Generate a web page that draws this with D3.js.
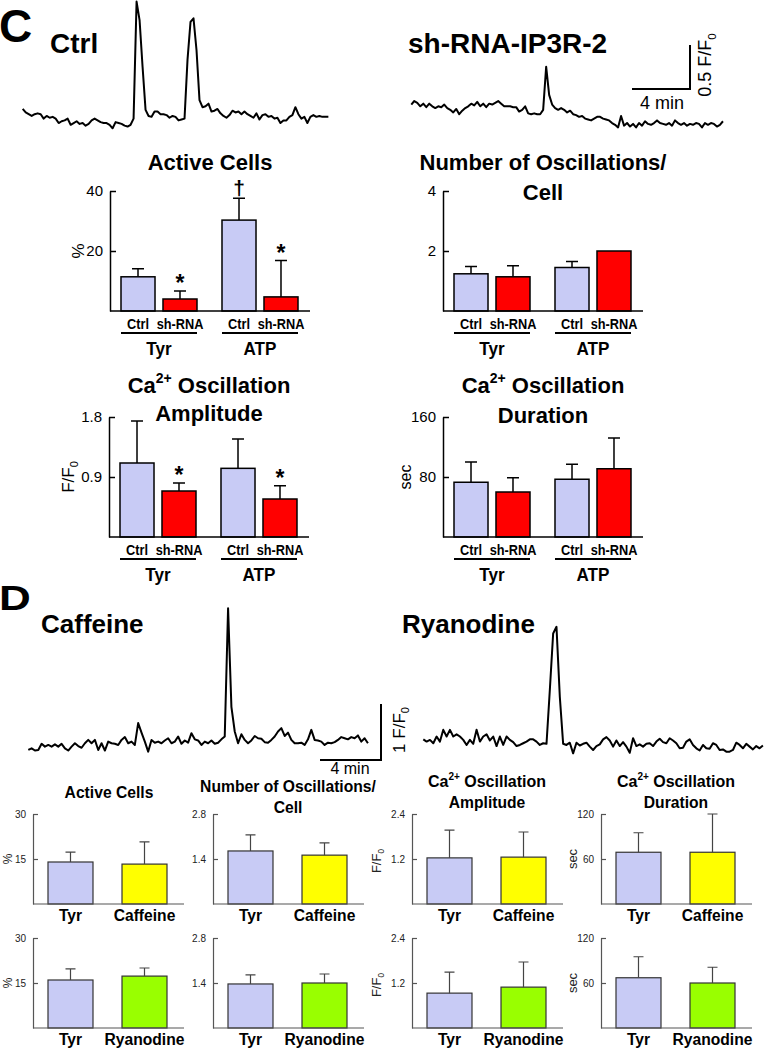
<!DOCTYPE html>
<html><head><meta charset="utf-8">
<script src="https://cdn.jsdelivr.net/npm/d3@7"></script>
<style>body{margin:0;background:#fff}svg{display:block}</style>
</head><body>
<svg id="c" width="766" height="1050" style="font-family:'Liberation Sans',Arial,Helvetica,sans-serif"></svg>
<script>
// ---------------- DATA ----------------
// Ca2+ traces (F/F0 above trace floor), evenly sampled
const traceCtrl = [0.22,0.18,0.16,0.14,0.16,0.17,0.16,0.11,0.14,0.12,
0.13,0.11,0.06,0.08,0.09,0.11,0.04,0.06,0.08,0.05,
0.06,0.03,0.05,0.09,0.11,0.09,0.07,0.06,0.06,0.04,
0.00,0.07,0.06,0.05,0.03,0.02,0.04,0.11,1.44,1.23,
0.70,0.21,0.14,0.13,0.19,0.19,0.16,0.16,0.15,0.12,
0.14,0.13,0.09,0.10,0.11,0.78,1.21,1.25,0.89,0.32,
0.24,0.25,0.28,0.19,0.20,0.22,0.17,0.14,0.12,0.15,
0.20,0.18,0.19,0.16,0.19,0.16,0.14,0.12,0.17,0.10,
0.15,0.16,0.13,0.14,0.11,0.12,0.06,0.09,0.09,0.13,
0.15,0.24,0.16,0.11,0.13,0.06,0.13,0.15,0.13,0.14,
0.13,0.13,0.13];
const traceShRNA = [0.27,0.31,0.29,0.25,0.28,0.24,0.28,0.25,0.23,0.25,
0.24,0.27,0.23,0.21,0.18,0.22,0.16,0.20,0.23,0.25,
0.28,0.26,0.30,0.25,0.28,0.24,0.28,0.27,0.29,0.31,
0.28,0.25,0.25,0.25,0.24,0.24,0.19,0.21,0.25,0.17,
0.16,0.17,0.16,0.16,0.21,0.70,0.38,0.27,0.23,0.21,
0.23,0.21,0.18,0.20,0.16,0.15,0.13,0.14,0.11,0.10,
0.09,0.11,0.13,0.13,0.11,0.10,0.09,0.06,0.04,0.01,
0.14,0.03,0.06,0.02,0.05,0.01,0.06,0.03,0.08,0.05,
0.04,0.06,0.09,0.06,0.05,0.04,0.06,0.03,0.09,0.06,
0.04,0.06,0.03,0.05,0.04,0.06,0.05,0.01,0.06,0.04,
0.06,0.05,0.02,0.04,0.08];
const traceCaffeine = [0.12,0.15,0.11,0.12,0.23,0.18,0.21,0.18,0.22,0.18,
0.23,0.15,0.11,0.18,0.24,0.19,0.16,0.24,0.30,0.24,
0.30,0.12,0.24,0.11,0.27,0.24,0.23,0.21,0.30,0.35,
0.24,0.27,0.21,0.60,0.43,0.27,0.09,0.30,0.25,0.27,
0.24,0.29,0.33,0.24,0.27,0.36,0.23,0.29,0.25,0.42,
0.31,0.29,0.21,0.27,0.24,0.29,0.23,0.25,0.31,0.36,
2.65,0.89,0.45,0.24,0.40,0.30,0.24,0.29,0.37,0.33,
0.32,0.26,0.25,0.30,0.36,0.45,0.51,0.37,0.43,0.30,
0.24,0.24,0.25,0.21,0.31,0.48,0.30,0.29,0.27,0.21,
0.25,0.24,0.26,0.30,0.35,0.33,0.31,0.35,0.33,0.38,
0.27,0.33,0.24];
const traceRyanodine = [0.31,0.27,0.30,0.24,0.36,0.27,0.48,0.36,0.48,0.36,
0.40,0.36,0.30,0.21,0.30,0.23,0.48,0.27,0.36,0.40,
0.29,0.36,0.19,0.36,0.21,0.36,0.30,0.26,0.19,0.21,
0.24,0.27,0.31,0.31,0.27,0.21,0.24,0.23,1.19,2.20,
2.32,1.07,0.23,0.21,0.25,0.06,0.25,0.20,0.23,0.25,
0.18,0.12,0.19,0.22,0.31,0.35,0.29,0.18,0.29,0.19,
0.26,0.18,0.07,0.33,0.19,0.22,0.18,0.23,0.24,0.19,
0.27,0.32,0.26,0.24,0.33,0.29,0.24,0.15,0.16,0.27,
0.31,0.21,0.15,0.11,0.21,0.15,0.14,0.24,0.21,0.12,
0.13,0.09,0.09,0.12,0.25,0.21,0.15,0.23,0.18,0.13,
0.19,0.15,0.20];

// Panel C bar charts: order Tyr-Ctrl, Tyr-sh-RNA, ATP-Ctrl, ATP-sh-RNA
const cGroups = ["Tyr","ATP"];
const cConds = ["Ctrl","sh-RNA"];
const activeMean = [11.4,4.0,30.3,4.7];
const activeErr  = [2.7,2.7,7.3,12.1];
const activeMarks = ["","*","\u2020","*"];
const activeTicks = [20,40];
const oscMean = [1.24,1.14,1.45,2.0];
const oscErr  = [0.24,0.37,0.20,0];
const oscTicks = [2,4];
const ampMean = [1.11,0.69,1.03,0.57];
const ampErr  = [0.63,0.12,0.44,0.20];
const ampMarks = ["","*","","*"];
const ampTicks = [0.9,1.8];
const durMean = [73,60,77,91];
const durErr  = [27,19,20,41];
const durTicks = [80,160];

// Panel D bar charts: [Tyr, drug]
const cafCats = ["Tyr","Caffeine"];
const ryaCats = ["Tyr","Ryanodine"];
const dActiveCaf = [14.0,13.3], dActiveCafErr = [3.3,7.4];
const dOscCaf = [1.65,1.52], dOscCafErr = [0.50,0.38];
const dAmpCaf = [1.23,1.25], dAmpCafErr = [0.74,0.67];
const dDurCaf = [69,69], dDurCafErr = [26,51];
const dActiveRya = [16.0,17.3], dActiveRyaErr = [3.7,2.7];
const dOscRya = [1.37,1.40], dOscRyaErr = [0.28,0.28];
const dAmpRya = [0.93,1.09], dAmpRyaErr = [0.56,0.67];
const dDurRya = [67,60], dDurRyaErr = [28,21];
const dActiveTicks = [15,30], dOscTicks = [1.4,2.8], dAmpTicks = [1.2,2.4], dDurTicks = [60,120];

// ---------------- DRAWING ----------------
const svg = d3.select("#c");
const LAV = "#c8cbf5", RED = "#ff0000", YEL = "#ffff00", GRN = "#99ff00";

function txt(x, y, s, size, weight, anchor, k) {
  return svg.append("text").attr("transform", `translate(${x},${y}) scale(${k || 1},1)`).text(s)
    .attr("font-size", size).attr("font-weight", weight || "normal")
    .attr("text-anchor", anchor || "start").attr("fill", "#000");
}
function rotLabel(x, y, parts, size, color) {
  const t = svg.append("text").attr("transform", `translate(${x},${y}) rotate(-90)`)
    .attr("text-anchor", "middle").attr("font-size", size).attr("fill", color || "#000");
  parts.forEach(p => {
    const ts = t.append("tspan").text(p.t);
    if (p.sub) ts.attr("font-size", size * 0.65).attr("dy", size * 0.25);
  });
  return t;
}
function titleCa(x, y, size, supSize, rest) {
  const t = svg.append("text").attr("x", x).attr("y", y).attr("text-anchor", "middle")
    .attr("font-size", size).attr("font-weight", "bold");
  t.append("tspan").text("Ca");
  t.append("tspan").text("2+").attr("font-size", supSize).attr("dy", -size * 0.45);
  t.append("tspan").text(" " + rest).attr("dy", size * 0.45);
}

// ---- traces ----
function trace(vals, x0, dt, pxPer4min, yFloor, pxPerUnit) {
  const x = d3.scaleLinear().domain([0, 240]).range([x0, x0 + pxPer4min]);
  const y = d3.scaleLinear().domain([0, 1]).range([yFloor, yFloor - pxPerUnit]);
  svg.append("path").datum(vals)
    .attr("d", d3.line().x((d, i) => x(i * dt)).y(d => y(d)))
    .attr("fill", "none").attr("stroke", "#000").attr("stroke-width", 2)
    .attr("stroke-linejoin", "round");
  return {x, y};
}
const sC = trace(traceCtrl, 22.7, 12.4, 58, 128.3, 88);
trace(traceShRNA, 411.3, 12.4, 58, 128.3, 88);
const sD = trace(traceCaffeine, 28.3, 13.1, 61, 756.7, 56);
trace(traceRyanodine, 423.3, 13.1, 61, 756.7, 56);

function scaleBar(xr, yb, s, fval, lenMin) {
  const w = s.x(lenMin) - s.x(0);
  const h = s.y(0) - s.y(fval);
  svg.append("path").attr("d", `M${xr - w},${yb}H${xr}V${yb - h}`)
    .attr("fill", "none").attr("stroke", "#000").attr("stroke-width", 2);
}
scaleBar(690, 89, sC, 0.5, 240);
txt(662, 109, "4 min", 18, "normal", "middle");
rotLabel(711, 65, [{t:"0.5 F/F"},{t:"0",sub:true}], 18);
scaleBar(381, 760, sD, 1, 240);
txt(350, 774, "4 min", 16, "normal", "middle");
rotLabel(405, 730, [{t:"1 F/F"},{t:"0",sub:true}], 17);

// ---- panel letters and trace titles ----
txt(-1, 42, "C", 46, "bold");
txt(50, 53, "Ctrl", 28, "bold");
txt(408, 53, "sh-RNA-IP3R-2", 28, "bold");
svg.append("text").attr("transform", "translate(-1,610) scale(1,0.8)")
  .attr("font-size", 44).attr("font-weight", "bold").text("D");
txt(41, 633, "Caffeine", 26, "bold");
txt(402, 633, "Ryanodine", 26, "bold");

// ---- main bar panels (C) ----
function mainPanel(p) {
  const g = svg.append("g");
  const y = d3.scaleLinear().domain([0, p.max]).range([p.zy, p.zy - 120]);
  const xg = d3.scaleBand().domain(cGroups).range([p.ax + 11, p.ax + 188]).paddingInner(0.2475);
  const xc = d3.scaleBand().domain(cConds).range([0, xg.bandwidth()]).paddingInner(0.19);
  const rows = p.mean.map((m, i) => ({g: cGroups[i >> 1], c: cConds[i % 2], m, e: p.err[i],
    mk: p.marks ? p.marks[i] : "", col: i % 2 ? RED : LAV}));
  const bx = d => xg(d.g) + xc(d.c);
  const cx = d => bx(d) + xc.bandwidth() / 2;
  g.selectAll("rect").data(rows).join("rect")
    .attr("x", bx).attr("y", d => y(d.m)).attr("width", xc.bandwidth())
    .attr("height", d => p.zy - y(d.m)).attr("fill", d => d.col)
    .attr("stroke", "#000").attr("stroke-width", 1.5);
  const eb = rows.filter(d => d.e > 0);
  g.selectAll("path.eb").data(eb).join("path").attr("class", "eb")
    .attr("d", d => `M${cx(d)},${y(d.m)}V${y(d.m + d.e)}M${cx(d) - 6},${y(d.m + d.e)}H${cx(d) + 6}`)
    .attr("stroke", "#000").attr("stroke-width", 1.5).attr("fill", "none");
  rows.filter(d => d.mk).forEach(d => {
    const top = y(d.m + d.e);
    if (d.mk === "*") txt(cx(d), top - 13 + 13, "*", 23, "bold", "middle");
    else txt(cx(d), top - 3, d.mk, 21, "bold", "middle");
  });
  const ax = d3.axisLeft(y).tickValues(p.ticks).tickSize(-6).tickSizeOuter(0).tickPadding(7)
    .tickFormat(d => String(d));
  const ag = g.append("g").attr("transform", `translate(${p.ax},0)`).call(ax);
  ag.attr("font-family", null).attr("font-size", 15);
  ag.selectAll("path,line").attr("stroke", "#000").attr("stroke-width", 1.5);
  ag.selectAll("text").attr("fill", "#000");
  g.append("line").attr("x1", p.ax).attr("x2", p.ax + 200).attr("y1", p.zy).attr("y2", p.zy)
    .attr("stroke", "#000").attr("stroke-width", 1.5);
  rows.forEach(d => txt(cx(d), p.zy + 17.5, d.c, 14.5, "bold", "middle", 0.88));
  cGroups.forEach(gr => {
    g.append("line").attr("x1", xg(gr)).attr("x2", xg(gr) + xg.bandwidth())
      .attr("y1", p.zy + 22).attr("y2", p.zy + 22).attr("stroke", "#000").attr("stroke-width", 2);
    txt(xg(gr) + xg.bandwidth() / 2, p.zy + 44, gr, 19, "bold", "middle", 0.9);
  });
  const tc = p.ax + 100;
  if (p.ca) { titleCa(tc, p.titleY[0], 22, 14, p.title[0]); txt(tc, p.titleY[1], p.title[1], 22, "bold", "middle"); }
  else p.title.forEach((t, i) => txt(tc, p.titleY[i], t, 22, "bold", "middle"));
}
mainPanel({ax:110, zy:311, max:40, ticks:activeTicks, mean:activeMean, err:activeErr, marks:activeMarks,
  title:["Active Cells"], titleY:[170]});
rotLabel(84, 251, [{t:"%"}], 17);
mainPanel({ax:443, zy:311, max:4, ticks:oscTicks, mean:oscMean, err:oscErr,
  title:["Number of Oscillations/","Cell"], titleY:[170,200]});
mainPanel({ax:109, zy:537, max:1.8, ticks:ampTicks, mean:ampMean, err:ampErr, marks:ampMarks,
  ca:true, title:["Oscillation","Amplitude"], titleY:[393,421]});
rotLabel(74, 477, [{t:"F/F"},{t:"0",sub:true}], 17);
mainPanel({ax:443, zy:537, max:160, ticks:durTicks, mean:durMean, err:durErr,
  ca:true, title:["Oscillation","Duration"], titleY:[393,423]});
rotLabel(411, 477, [{t:"sec"}], 16);

// ---- small bar panels (D) ----
function smallPanel(p) {
  const g = svg.append("g");
  const y = d3.scaleLinear().domain([0, p.max]).range([p.zy, p.zy - 90]);
  const x = d3.scaleBand().domain(p.cats).range([p.ax + 15, p.ax + 134]).paddingInner(0.392);
  const rows = p.mean.map((m, i) => ({c: p.cats[i], m, e: p.err[i], col: i ? p.col : LAV}));
  const cx = d => x(d.c) + x.bandwidth() / 2;
  g.selectAll("rect").data(rows).join("rect")
    .attr("x", d => x(d.c)).attr("y", d => y(d.m)).attr("width", x.bandwidth())
    .attr("height", d => p.zy - y(d.m)).attr("fill", d => d.col)
    .attr("stroke", "#333").attr("stroke-width", 1.2);
  g.selectAll("path.eb").data(rows).join("path").attr("class", "eb")
    .attr("d", d => `M${cx(d)},${y(d.m)}V${y(d.m + d.e)}M${cx(d) - 5},${y(d.m + d.e)}H${cx(d) + 5}`)
    .attr("stroke", "#444").attr("stroke-width", 1.2).attr("fill", "none");
  const ax = d3.axisLeft(y).tickValues(p.ticks).tickSize(-5).tickSizeOuter(0).tickPadding(7)
    .tickFormat(d => String(d));
  const ag = g.append("g").attr("transform", `translate(${p.ax},0)`).call(ax);
  ag.attr("font-family", null).attr("font-size", 10);
  ag.selectAll("path,line").attr("stroke", "#555").attr("stroke-width", 1.2);
  ag.selectAll("text").attr("fill", "#222");
  g.append("line").attr("x1", p.ax).attr("x2", p.ax + 151).attr("y1", p.zy).attr("y2", p.zy)
    .attr("stroke", "#555").attr("stroke-width", 1.2);
  rows.forEach(d => txt(cx(d), p.zy + 16.5, d.c, 17, "bold", "middle", 0.92));
}
const smallCols = [33, 213, 412, 601];
[[904, cafCats, YEL, [dActiveCaf, dOscCaf, dAmpCaf, dDurCaf], [dActiveCafErr, dOscCafErr, dAmpCafErr, dDurCafErr]],
 [1028, ryaCats, GRN, [dActiveRya, dOscRya, dAmpRya, dDurRya], [dActiveRyaErr, dOscRyaErr, dAmpRyaErr, dDurRyaErr]]]
.forEach(([zy, cats, col, means, errs]) => {
  const maxes = [30, 2.8, 2.4, 120];
  const ticks = [dActiveTicks, dOscTicks, dAmpTicks, dDurTicks];
  smallCols.forEach((ax, i) => smallPanel({ax, zy, cats, col, max: maxes[i], ticks: ticks[i], mean: means[i], err: errs[i]}));
  rotLabel(12, zy - 45, [{t:"%"}], 12, "#222");
  rotLabel(381, zy - 43, [{t:"F/F"},{t:"0",sub:true}], 13, "#222");
  rotLabel(577, zy - 45, [{t:"sec"}], 13, "#222");
});
txt(109, 798, "Active Cells", 16.5, "bold", "middle", 0.95);
txt(288, 792, "Number of Oscillations/", 16.5, "bold", "middle", 0.95);
txt(288, 813, "Cell", 16.5, "bold", "middle", 0.95);
titleCa(487, 787, 16, 10, "Oscillation");
txt(487, 808, "Amplitude", 16.5, "bold", "middle", 0.95);
titleCa(676, 787, 16, 10, "Oscillation");
txt(676, 808, "Duration", 16.5, "bold", "middle", 0.95);
</script>
</body></html>
